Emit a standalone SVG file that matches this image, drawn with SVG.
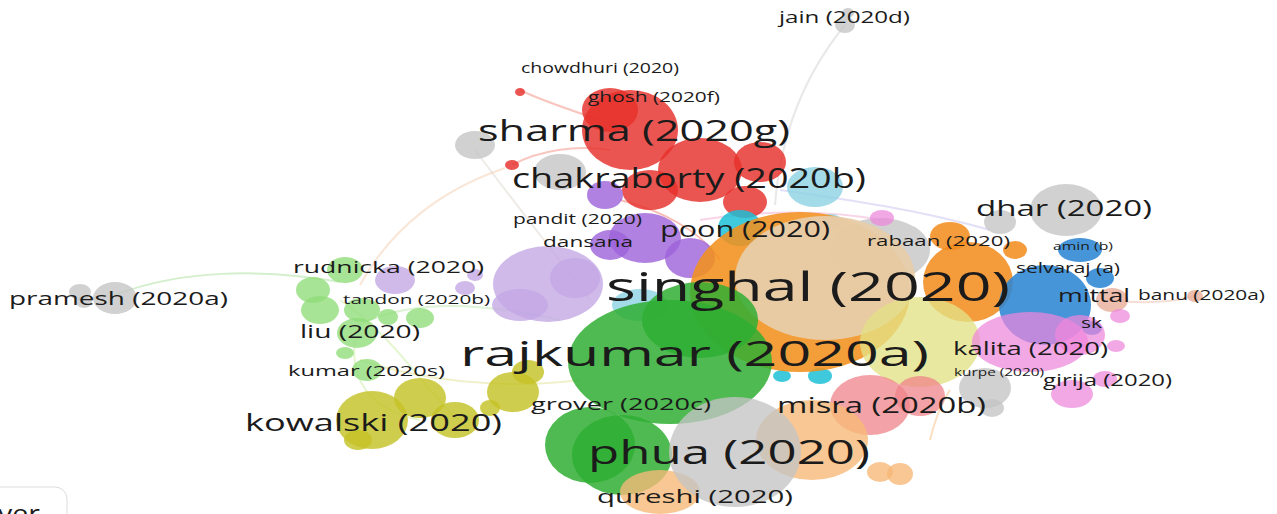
<svg xmlns="http://www.w3.org/2000/svg" width="1277" height="514" viewBox="0 0 1277 514">
<style>
text{font-family:"Open Sans","DejaVu Sans",sans-serif;fill:#1b1b1b}
.red{fill:#e6302b;opacity:.82}
.gry{fill:#c4c4c4;opacity:.78}
.grn{fill:#2fae33;opacity:.85}
.lgr{fill:#8fdc78;opacity:.78}
.pur{fill:#9c62d8;opacity:.8}
.lav{fill:#c3a6e4;opacity:.78}
.cya{fill:#1cbfd6;opacity:.85}
.lbl{fill:#8cd2e4;opacity:.8}
.org{fill:#f28a1a;opacity:.85}
.blu{fill:#2d86d4;opacity:.88}
.pnk{fill:#ee86dc;opacity:.72}
.yel{fill:#c4c226;opacity:.82}
.lye{fill:#e3e185;opacity:.78}
.sal{fill:#ef8489;opacity:.75}
.lor{fill:#f6b978;opacity:.8}
.pch{fill:#e9ac98;opacity:.8}
.ln{fill:none;stroke-width:2;opacity:.45}
</style>
<rect width="1277" height="514" fill="#fff"/>
<g id="connectors">
<path class="ln" d="M115,295 C180,270 260,268 340,282" stroke="#9edc8c"/>
<path class="ln" d="M845,25 C800,80 780,140 775,205" stroke="#cccccc"/>
<path class="ln" d="M475,150 C520,210 560,260 590,300" stroke="#d9d0c8"/>
<path class="ln" d="M512,165 C540,150 575,145 610,150" stroke="#f08070"/>
<path class="ln" d="M505,168 C440,190 390,230 360,285" stroke="#f2c7a6"/>
<path class="ln" d="M520,90 C540,100 570,110 600,120" stroke="#f08070"/>
<path class="ln" d="M350,330 C400,300 470,300 560,320" stroke="#b6e6a6"/>
<path class="ln" d="M360,360 C420,380 500,390 580,380" stroke="#dde08c"/>
<path class="ln" d="M340,300 C400,340 430,400 470,430" stroke="#c6ea9a"/>
<path class="ln" d="M355,340 C350,380 370,410 420,420" stroke="#c6ea9a"/>
<path class="ln" d="M930,440 C935,420 940,405 950,390" stroke="#f6b978"/>
<path class="ln" d="M1110,300 C1150,305 1180,300 1195,296" stroke="#ebb5a5"/>
<path class="ln" d="M700,220 C760,210 830,210 880,220" stroke="#ef9fc9"/>
<path class="ln" d="M620,200 C660,210 700,230 720,260" stroke="#f07060"/>
<path class="ln" d="M780,190 C850,200 920,210 990,230" stroke="#c0b8ec"/>
</g>
<g id="bubbles-gray">
<ellipse class="gry" cx="115" cy="298" rx="22" ry="16"/>
<ellipse class="gry" cx="80" cy="292" rx="11" ry="8"/>
<ellipse class="gry" cx="84" cy="302" rx="8" ry="6"/>
<ellipse class="gry" cx="845" cy="25" rx="10" ry="8"/>
<ellipse class="gry" cx="848" cy="13" rx="6" ry="5"/>
<ellipse class="gry" cx="475" cy="145" rx="20" ry="14"/>
<ellipse class="gry" cx="560" cy="172" rx="26" ry="18"/>
<ellipse class="gry" cx="1066" cy="210" rx="36" ry="26"/>
<ellipse class="gry" cx="1000" cy="222" rx="16" ry="12"/>
<ellipse class="gry" cx="880" cy="250" rx="50" ry="32"/>
<ellipse class="gry" cx="985" cy="388" rx="26" ry="20"/>
<ellipse class="gry" cx="992" cy="408" rx="12" ry="9"/>
</g>
<g id="cluster-red">
<ellipse class="red" cx="630" cy="130" rx="48" ry="40"/>
<ellipse class="red" cx="610" cy="110" rx="28" ry="22"/>
<ellipse class="red" cx="700" cy="170" rx="42" ry="32"/>
<ellipse class="red" cx="760" cy="162" rx="26" ry="20"/>
<ellipse class="red" cx="745" cy="202" rx="22" ry="16"/>
<ellipse class="red" cx="650" cy="190" rx="28" ry="20"/>
<ellipse class="red" cx="512" cy="165" rx="7" ry="5"/>
<ellipse class="red" cx="520" cy="92" rx="5" ry="4"/>
</g>
<g id="cluster-cyan">
<ellipse class="lbl" cx="815" cy="187" rx="28" ry="20"/>
<ellipse class="lbl" cx="830" cy="222" rx="12" ry="8"/>
<ellipse class="lbl" cx="640" cy="305" rx="28" ry="16"/>
<ellipse class="cya" cx="740" cy="228" rx="22" ry="18"/>
<ellipse class="cya" cx="820" cy="376" rx="12" ry="8"/>
<ellipse class="cya" cx="782" cy="376" rx="9" ry="6"/>
</g>
<g id="cluster-purple">
<ellipse class="pur" cx="605" cy="195" rx="18" ry="14"/>
<ellipse class="pur" cx="645" cy="238" rx="36" ry="25"/>
<ellipse class="pur" cx="690" cy="258" rx="25" ry="20"/>
<ellipse class="pur" cx="610" cy="245" rx="20" ry="15"/>
<ellipse class="lav" cx="548" cy="284" rx="55" ry="38"/>
<ellipse class="lav" cx="575" cy="278" rx="25" ry="20"/>
<ellipse class="lav" cx="520" cy="305" rx="28" ry="16"/>
<ellipse class="lav" cx="465" cy="288" rx="10" ry="7"/>
<ellipse class="lav" cx="475" cy="275" rx="8" ry="6"/>
<ellipse class="lav" cx="395" cy="280" rx="20" ry="14"/>
</g>
<g id="cluster-green-light">
<ellipse class="lgr" cx="345" cy="270" rx="18" ry="13"/>
<ellipse class="lgr" cx="313" cy="290" rx="17" ry="13"/>
<ellipse class="lgr" cx="320" cy="310" rx="19" ry="14"/>
<ellipse class="lgr" cx="362" cy="310" rx="18" ry="12"/>
<ellipse class="lgr" cx="388" cy="317" rx="10" ry="8"/>
<ellipse class="lgr" cx="420" cy="318" rx="14" ry="10"/>
<ellipse class="lgr" cx="357" cy="333" rx="20" ry="15"/>
<ellipse class="lgr" cx="345" cy="353" rx="9" ry="6"/>
<ellipse class="lgr" cx="367" cy="370" rx="15" ry="11"/>
</g>
<g id="cluster-yellow">
<ellipse class="yel" cx="372" cy="420" rx="36" ry="29"/>
<ellipse class="yel" cx="420" cy="398" rx="26" ry="20"/>
<ellipse class="yel" cx="455" cy="420" rx="24" ry="18"/>
<ellipse class="yel" cx="513" cy="392" rx="26" ry="20"/>
<ellipse class="yel" cx="528" cy="372" rx="16" ry="12"/>
<ellipse class="yel" cx="358" cy="440" rx="14" ry="10"/>
<ellipse class="yel" cx="490" cy="408" rx="10" ry="8"/>
</g>
<g id="singhal-node">
<ellipse cx="800" cy="292" rx="110" ry="80" fill="#f2911e" opacity=".88"/>
<ellipse cx="825" cy="278" rx="90" ry="62" fill="#e7cca9" opacity=".95"/>
</g>
<g id="cluster-orange">
<ellipse class="org" cx="968" cy="282" rx="45" ry="40"/>
<ellipse class="org" cx="950" cy="236" rx="20" ry="14"/>
<ellipse class="org" cx="1015" cy="250" rx="12" ry="9"/>
</g>
<g id="cluster-lightyellow">
<ellipse class="lye" cx="920" cy="342" rx="60" ry="45"/>
</g>
<g id="cluster-blue">
<ellipse class="blu" cx="1045" cy="305" rx="46" ry="40"/>
<ellipse class="blu" cx="1080" cy="250" rx="22" ry="12"/>
<ellipse class="blu" cx="1100" cy="278" rx="14" ry="10"/>
<ellipse class="blu" cx="1092" cy="328" rx="10" ry="7"/>
</g>
<g id="cluster-peach">
<ellipse class="pch" cx="1112" cy="300" rx="16" ry="12"/>
<ellipse class="pch" cx="1195" cy="296" rx="8" ry="6"/>
</g>
<g id="cluster-pink">
<ellipse class="pnk" cx="1030" cy="342" rx="58" ry="30"/>
<ellipse class="pnk" cx="1080" cy="335" rx="25" ry="20"/>
<ellipse class="pnk" cx="1120" cy="316" rx="10" ry="7"/>
<ellipse class="pnk" cx="1116" cy="346" rx="9" ry="6"/>
<ellipse class="pnk" cx="1105" cy="379" rx="12" ry="8"/>
<ellipse class="pnk" cx="1072" cy="394" rx="21" ry="14" opacity=".5"/>
<ellipse class="pnk" cx="882" cy="218" rx="12" ry="8"/>
</g>
<g id="cluster-salmon">
<ellipse class="sal" cx="870" cy="405" rx="40" ry="30"/>
<ellipse class="sal" cx="920" cy="396" rx="25" ry="20"/>
</g>
<g id="cluster-green">
<ellipse class="grn" cx="700" cy="320" rx="58" ry="38"/>
<ellipse class="grn" cx="670" cy="362" rx="102" ry="62"/>
<ellipse class="grn" cx="590" cy="445" rx="45" ry="38"/>
<ellipse class="grn" cx="622" cy="455" rx="50" ry="40"/>
</g>
<g id="cluster-lightorange">
<ellipse class="lor" cx="812" cy="440" rx="56" ry="40"/>
<ellipse class="lor" cx="660" cy="492" rx="40" ry="22"/>
<ellipse class="lor" cx="880" cy="472" rx="13" ry="10"/>
<ellipse class="lor" cx="900" cy="474" rx="13" ry="11"/>
</g>
<g id="phua-gray">
<ellipse class="gry" cx="735" cy="452" rx="66" ry="55" opacity=".7"/>
</g>
<g id="labels">
<text x="779" y="23" font-size="17" textLength="131" lengthAdjust="spacingAndGlyphs">jain (2020d)</text>
<text x="521" y="73" font-size="14" textLength="158" lengthAdjust="spacingAndGlyphs">chowdhuri (2020)</text>
<text x="588" y="102" font-size="14" textLength="132" lengthAdjust="spacingAndGlyphs">ghosh (2020f)</text>
<text x="478" y="141" font-size="29" textLength="312" lengthAdjust="spacingAndGlyphs">sharma (2020g)</text>
<text x="512" y="188" font-size="27" textLength="354" lengthAdjust="spacingAndGlyphs">chakraborty (2020b)</text>
<text x="513" y="224" font-size="14" textLength="129" lengthAdjust="spacingAndGlyphs">pandit (2020)</text>
<text x="543" y="247" font-size="14" textLength="90" lengthAdjust="spacingAndGlyphs">dansana</text>
<text x="660" y="237" font-size="21" textLength="170" lengthAdjust="spacingAndGlyphs">poon (2020)</text>
<text x="867" y="246" font-size="15" textLength="143" lengthAdjust="spacingAndGlyphs">rabaan (2020)</text>
<text x="976" y="216" font-size="22" textLength="176" lengthAdjust="spacingAndGlyphs">dhar (2020)</text>
<text x="1053" y="250" font-size="11" textLength="60" lengthAdjust="spacingAndGlyphs">amin (b)</text>
<text x="1016" y="273" font-size="14" textLength="104" lengthAdjust="spacingAndGlyphs">selvaraj (a)</text>
<text x="1058" y="302" font-size="19" textLength="72" lengthAdjust="spacingAndGlyphs">mittal</text>
<text x="1138" y="300" font-size="15" textLength="127" lengthAdjust="spacingAndGlyphs">banu (2020a)</text>
<text x="1081" y="328" font-size="14" textLength="21" lengthAdjust="spacingAndGlyphs">sk</text>
<text x="953" y="355" font-size="19" textLength="155" lengthAdjust="spacingAndGlyphs">kalita (2020)</text>
<text x="954" y="376" font-size="10" textLength="90" lengthAdjust="spacingAndGlyphs">kurpe (2020)</text>
<text x="1043" y="386" font-size="16" textLength="129" lengthAdjust="spacingAndGlyphs">girija (2020)</text>
<text x="777" y="413" font-size="22" textLength="209" lengthAdjust="spacingAndGlyphs">misra (2020b)</text>
<text x="606" y="301" font-size="41" textLength="404" lengthAdjust="spacingAndGlyphs">singhal (2020)</text>
<text x="460" y="366" font-size="35" textLength="469" lengthAdjust="spacingAndGlyphs">rajkumar (2020a)</text>
<text x="531" y="410" font-size="16" textLength="180" lengthAdjust="spacingAndGlyphs">grover (2020c)</text>
<text x="588" y="464" font-size="33" textLength="282" lengthAdjust="spacingAndGlyphs">phua (2020)</text>
<text x="597" y="503" font-size="18" textLength="196" lengthAdjust="spacingAndGlyphs">qureshi (2020)</text>
<text x="245" y="431" font-size="23" textLength="257" lengthAdjust="spacingAndGlyphs">kowalski (2020)</text>
<text x="293" y="273" font-size="17" textLength="191" lengthAdjust="spacingAndGlyphs">rudnicka (2020)</text>
<text x="343" y="304" font-size="13" textLength="147" lengthAdjust="spacingAndGlyphs">tandon (2020b)</text>
<text x="300" y="338" font-size="19" textLength="120" lengthAdjust="spacingAndGlyphs">liu (2020)</text>
<text x="288" y="376" font-size="15" textLength="157" lengthAdjust="spacingAndGlyphs">kumar (2020s)</text>
<text x="9" y="305" font-size="18" textLength="219" lengthAdjust="spacingAndGlyphs">pramesh (2020a)</text>
</g>
<g id="logo">
<rect x="-20" y="487" width="87" height="60" rx="12" fill="#fff" stroke="#dddddd" stroke-width="1"/>
<text x="-2" y="522" font-size="24" textLength="42" lengthAdjust="spacingAndGlyphs">ver</text>
</g>
</svg>
